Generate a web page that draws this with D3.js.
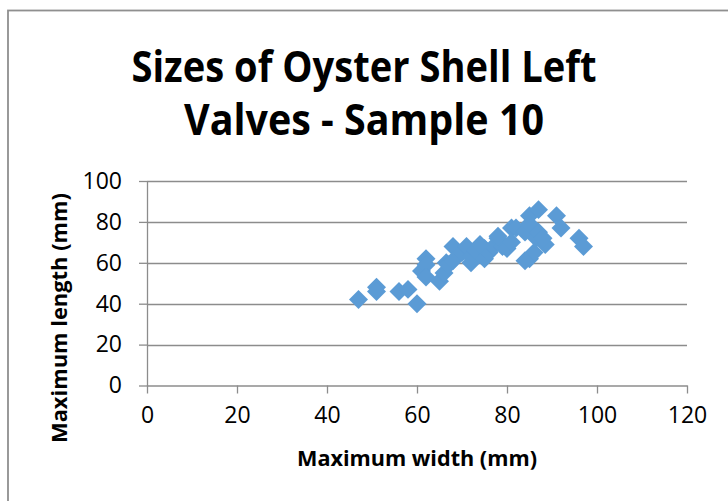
<!DOCTYPE html>
<html>
<head>
<meta charset="utf-8">
<script src="https://cdn.jsdelivr.net/npm/d3@7"></script>
<style>
  html, body { margin: 0; padding: 0; background: #fff; }
  svg { display: block; font-family: "Open Sans", "DejaVu Sans", sans-serif; }
</style>
</head>
<body>
<div id="chart"></div>
<script>
// shell sizes (mm)
const widths = [47, 51, 51, 56, 58, 60, 61, 62, 62, 62, 65, 66, 66.5, 67, 68, 68, 70, 71, 72, 72,
  73, 75, 75, 76, 77, 78, 79, 80, 81, 81, 82, 84, 85, 85, 87, 86.5, 85, 86, 87, 88.5,
  88, 91, 92, 96, 97, 84, 78, 74];
const lengths = [42, 48, 46, 46, 47, 40, 56, 62, 59, 53, 51, 55, 60, 59, 68, 61, 65, 68, 60, 63,
  66, 67, 62, 65, 68, 72, 68, 67, 70, 77, 77, 75, 83, 79, 86, 72, 62, 65, 75, 69,
  72, 83, 77, 72, 68, 61, 73, 69];
const xTicks = [0, 20, 40, 60, 80, 100, 120];
const yTicks = [0, 20, 40, 60, 80, 100];
const titleLines = ['Sizes of Oyster Shell Left', 'Valves - Sample 10'];

const W = 728, H = 501;
const margin = { top: 181, right: 41, bottom: 115.5, left: 147 };
const width = W - margin.left - margin.right;
const height = H - margin.top - margin.bottom;
const gridColor = '#8c8c8c';

const svg = d3.select('#chart').append('svg')
  .attr('width', W)
  .attr('height', H);

svg.append('rect').attr('width', W).attr('height', H).attr('fill', '#fff');

// chart frame (runs off the right and bottom edges)
svg.append('rect')
  .attr('x', 8).attr('y', 10.5)
  .attr('width', W + 20).attr('height', H + 20)
  .attr('fill', 'none')
  .attr('stroke', '#8f8f8f')
  .attr('stroke-width', 1.8);

// title
svg.append('g').selectAll('text')
  .data(titleLines)
  .enter()
  .append('text')
  .attr('x', 364)
  .attr('y', function (d, i) { return 82 + i * 53; })
  .attr('text-anchor', 'middle')
  .attr('font-size', 43)
  .attr('font-weight', 'bold')
  .attr('fill', '#000')
  .attr('textLength', function (d, i) { return i === 0 ? 465 : 360; })
  .attr('lengthAdjust', 'spacingAndGlyphs')
  .text(function (d) { return d; });

const x = d3.scaleLinear().domain([0, 120]).range([0, width]);
const y = d3.scaleLinear().domain([0, 100]).range([height, 0]);

const chart = svg.append('g')
  .attr('transform', 'translate(' + margin.left + ',' + margin.top + ')');

// horizontal gridlines
chart.append('g')
  .selectAll('line')
  .data(yTicks.filter(function (d) { return d > 0; }))
  .enter()
  .append('line')
  .attr('x1', 0).attr('x2', width)
  .attr('y1', function (d) { return Math.round(y(d)) + 0.5; })
  .attr('y2', function (d) { return Math.round(y(d)) + 0.5; })
  .attr('stroke', gridColor)
  .attr('stroke-width', 1.3);

// y axis
const yAxis = chart.append('g')
  .call(d3.axisLeft(y).tickValues(yTicks).tickSize(8).tickPadding(17).tickSizeOuter(0));
yAxis.select('.domain').attr('stroke', gridColor).attr('stroke-width', 1.3);
yAxis.selectAll('.tick line').attr('stroke', gridColor).attr('stroke-width', 1.3);
yAxis.selectAll('.tick text')
  .attr('font-family', '"Open Sans", sans-serif')
  .attr('font-size', 23)
  .attr('fill', '#000');

// x axis
const xAxis = chart.append('g')
  .attr('transform', 'translate(0,' + height + ')')
  .call(d3.axisBottom(x).tickValues(xTicks).tickSize(8).tickPadding(13).tickSizeOuter(0));
xAxis.select('.domain').attr('stroke', gridColor).attr('stroke-width', 1.3);
xAxis.selectAll('.tick line').attr('stroke', gridColor).attr('stroke-width', 1.3);
xAxis.selectAll('.tick text')
  .attr('font-family', '"Open Sans", sans-serif')
  .attr('font-size', 23)
  .attr('fill', '#000');

// axis titles
svg.append('text')
  .attr('x', 417)
  .attr('y', 466)
  .attr('text-anchor', 'middle')
  .attr('font-size', 22)
  .attr('font-weight', 'bold')
  .attr('textLength', 240)
  .attr('lengthAdjust', 'spacingAndGlyphs')
  .text('Maximum width (mm)');

svg.append('text')
  .attr('transform', 'translate(67,318) rotate(-90)')
  .attr('text-anchor', 'middle')
  .attr('font-size', 22)
  .attr('font-weight', 'bold')
  .attr('textLength', 250)
  .attr('lengthAdjust', 'spacingAndGlyphs')
  .text('Maximum length (mm)');

// points
const points = widths.map(function (w, i) { return { w: w, l: lengths[i] }; });
const marker = d3.symbol().type(d3.symbolSquare).size(180);

chart.append('g')
  .selectAll('path')
  .data(points)
  .enter()
  .append('path')
  .attr('d', marker)
  .attr('transform', function (d) {
    return 'translate(' + x(d.w) + ',' + y(d.l) + ') rotate(45)';
  })
  .attr('fill', '#5b9bd5');
</script>
</body>
</html>
